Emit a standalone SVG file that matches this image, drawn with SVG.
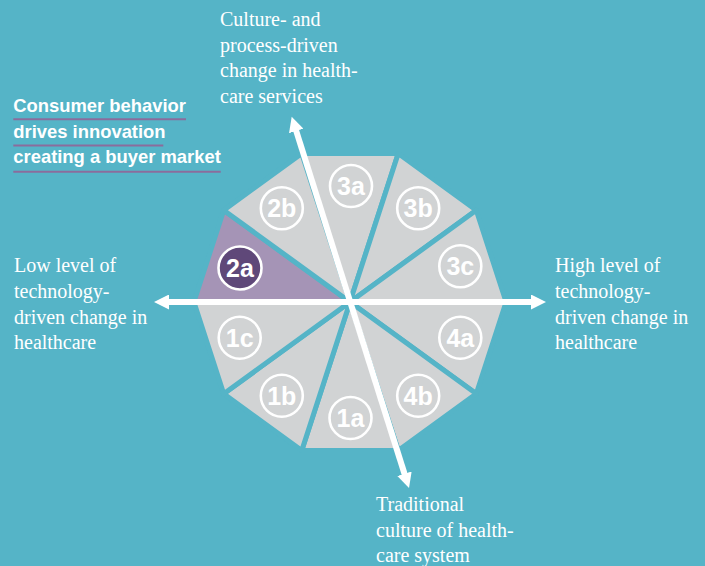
<svg xmlns="http://www.w3.org/2000/svg" width="705" height="566" viewBox="0 0 705 566">
<style>
.slice{fill:#d1d3d4;stroke:#55b4c7;stroke-width:5;stroke-linejoin:round}
.hl{fill:#a594b6}
.ring{fill:none;stroke:#fff;stroke-width:2.6}
.ring.dark{fill:#5f4879}
.num{font-family:"Liberation Sans",Arial,sans-serif;font-weight:bold;font-size:25px;fill:#fff;text-anchor:middle}
.cap{font-family:"Liberation Serif","Times New Roman",serif;font-size:20px;fill:#fff}
.title{font-family:"Liberation Sans",Arial,sans-serif;font-weight:bold;font-size:18.4px;fill:#fff}
.ul{stroke:#8b6c9c;stroke-width:2}
.axis{stroke:#fff;stroke-width:6;fill:none;marker-start:url(#ah);marker-end:url(#ah)}
</style>
<defs>
<marker id="ah" markerUnits="userSpaceOnUse" markerWidth="16" markerHeight="15" viewBox="0 0 16 15" refX="5" refY="7.5" orient="auto-start-reverse">
<path d="M0,0 L15,7.5 L0,15 z" fill="#fff"/>
</marker>
</defs>
<rect width="705" height="566" fill="#55b4c7"/>

<g id="slice-3a"><polygon class="slice" points="350,302 301.76,153.53 398.24,153.53"/><circle class="ring" cx="351" cy="186" r="21"/><text class="num" x="351" y="195">3a</text></g>
<g id="slice-3b"><polygon class="slice" points="350,302 398.24,153.53 476.28,210.24"/><circle class="ring" cx="418.2" cy="208.2" r="21"/><text class="num" x="418.2" y="217.2">3b</text></g>
<g id="slice-3c"><polygon class="slice" points="350,302 476.28,210.24 506.1,302"/><circle class="ring" cx="460.3" cy="266.2" r="21"/><text class="num" x="460.3" y="275.2">3c</text></g>
<g id="slice-4a"><polygon class="slice" points="350,302 506.1,302 476.28,393.76"/><circle class="ring" cx="460.3" cy="337.8" r="21"/><text class="num" x="460.3" y="346.8">4a</text></g>
<g id="slice-4b"><polygon class="slice" points="350,302 476.28,393.76 398.24,450.47"/><circle class="ring" cx="418.2" cy="395.8" r="21"/><text class="num" x="418.2" y="404.8">4b</text></g>
<g id="slice-1a"><polygon class="slice" points="350,302 398.24,450.47 301.76,450.47"/><circle class="ring" cx="350.5" cy="418" r="21"/><text class="num" x="350.5" y="427">1a</text></g>
<g id="slice-1b"><polygon class="slice" points="350,302 301.76,450.47 223.72,393.76"/><circle class="ring" cx="281.8" cy="395.8" r="21"/><text class="num" x="281.8" y="404.8">1b</text></g>
<g id="slice-1c"><polygon class="slice" points="350,302 223.72,393.76 193.9,302"/><circle class="ring" cx="239.7" cy="337.8" r="21"/><text class="num" x="239.7" y="346.8">1c</text></g>
<g id="slice-2a"><polygon class="slice hl" points="350,302 193.9,302 223.72,210.24"/><circle class="ring dark" cx="240" cy="268" r="21.5"/><text class="num" x="240" y="277">2a</text></g>
<g id="slice-2b"><polygon class="slice" points="350,302 223.72,210.24 301.76,153.53"/><circle class="ring" cx="281.8" cy="208.2" r="21"/><text class="num" x="281.8" y="217.2">2b</text></g>

<g id="connectors">
<line class="axis" x1="164" y1="302" x2="536" y2="302"/>
<line class="axis" x1="294.7" y1="126.2" x2="406" y2="478.5"/>
</g>

<g id="label-top"><text class="cap" x="220" y="26">Culture- and</text><text class="cap" x="220" y="51.7">process-driven</text><text class="cap" x="220" y="77.3">change in health-</text><text class="cap" x="220" y="102.7">care services</text></g>
<g id="label-left"><text class="cap" x="14" y="271.7">Low level of</text><text class="cap" x="14" y="297.7">technology-</text><text class="cap" x="14" y="323.5">driven change in</text><text class="cap" x="14" y="349.3">healthcare</text></g>
<g id="label-right"><text class="cap" x="555" y="271.7">High level of</text><text class="cap" x="555" y="297.7">technology-</text><text class="cap" x="555" y="323.5">driven change in</text><text class="cap" x="555" y="349.3">healthcare</text></g>
<g id="label-bottom"><text class="cap" x="376" y="510.7">Traditional</text><text class="cap" x="376" y="536.5">culture of health-</text><text class="cap" x="376" y="562">care system</text></g>

<g id="title">
<text class="title" x="13.3" y="112.3">Consumer behavior</text>
<line class="ul" x1="13.3" y1="119.2" x2="186" y2="119.2"/>
<text class="title" x="13.3" y="137.7">drives innovation</text>
<line class="ul" x1="13.3" y1="145.5" x2="163.3" y2="145.5"/>
<text class="title" x="13.3" y="163.3">creating a buyer market</text>
<line class="ul" x1="13.3" y1="171.8" x2="220.7" y2="171.8"/>
</g>
</svg>
